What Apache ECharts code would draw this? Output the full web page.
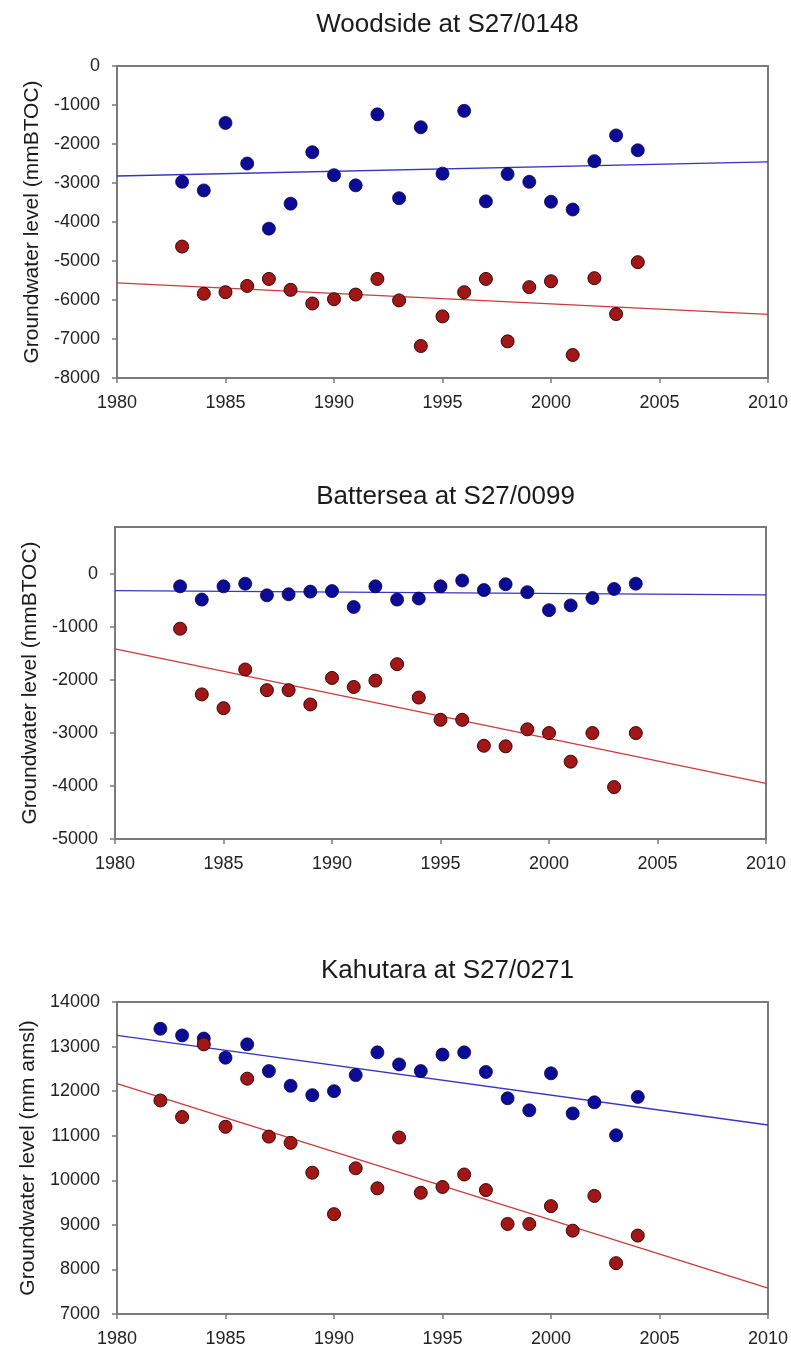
<!DOCTYPE html>
<html>
<head>
<meta charset="utf-8">
<script src="https://cdn.jsdelivr.net/npm/echarts@6/dist/echarts.min.js"></script>
<style>
html,body{margin:0;padding:0;background:#ffffff;}
#chart{width:791px;height:1351px;}
</style>
</head>
<body>
<div id="chart"></div>
<script>
// ---------- data ----------
const titles = ['Woodside at S27/0148', 'Battersea at S27/0099', 'Kahutara at S27/0271'];
const yAxisNames = ['Groundwater level (mmBTOC)', 'Groundwater level (mmBTOC)', 'Groundwater level (mm amsl)'];

const years83 = [1983,1984,1985,1986,1987,1988,1989,1990,1991,1992,1993,1994,1995,1996,1997,1998,1999,2000,2001,2002,2003,2004];
const years82 = [1982,1983,1984,1985,1986,1987,1988,1989,1990,1991,1992,1993,1994,1995,1996,1997,1998,1999,2000,2001,2002,2003,2004];
const xTickLabels = [1980,1985,1990,1995,2000,2005,2010];
const trendYears = [1980, 2010];

// Woodside
const woodsideBlue = [-2970,-3190,-1460,-2500,-4170,-3530,-2210,-2800,-3060,-1240,-3390,-1570,-2760,-1150,-3470,-2770,-2970,-3480,-3680,-2440,-1780,-2160];
const woodsideRed  = [-4630,-5840,-5800,-5640,-5460,-5740,-6090,-5980,-5860,-5460,-6010,-7180,-6420,-5800,-5460,-7060,-5670,-5520,-7410,-5440,-6360,-5030];
const woodsideBlueTrend = [-2820, -2460];
const woodsideRedTrend  = [-5560, -6370];
const woodsideYTicks = [-8000,-7000,-6000,-5000,-4000,-3000,-2000,-1000,0];

// Battersea
const batterseaBlue = [-230,-480,-230,-180,-400,-380,-330,-320,-620,-230,-480,-460,-230,-120,-300,-190,-340,-680,-590,-450,-280,-180];
const batterseaRed  = [-1030,-2270,-2530,-1800,-2190,-2190,-2460,-1960,-2130,-2010,-1700,-2330,-2750,-2750,-3240,-3250,-2930,-3000,-3540,-3000,-4020,-3000];
const batterseaBlueTrend = [-310, -390];
const batterseaRedTrend  = [-1410, -3950];
const batterseaYTicks = [-5000,-4000,-3000,-2000,-1000,0];
const batterseaYMax = 890;

// Kahutara
const kahutaraBlue = [13400,13250,13180,12750,13050,12450,12120,11910,12000,12360,12870,12600,12450,12820,12870,12430,11840,11570,12400,11500,11750,11010,11870];
const kahutaraRed  = [11790,11420,13050,11200,12280,10980,10840,10170,9240,10270,9820,10960,9720,9850,10130,9780,9020,9020,9420,8870,9650,8140,8760];
const kahutaraBlueTrend = [13250, 11240];
const kahutaraRedTrend  = [12170, 7580];
const kahutaraYTicks = [7000,8000,9000,10000,11000,12000,13000,14000];

// ---------- build ----------
const panels = [
  {years: years83, blue: woodsideBlue, red: woodsideRed, bt: woodsideBlueTrend, rt: woodsideRedTrend, ticks: woodsideYTicks, max: 0},
  {years: years83, blue: batterseaBlue, red: batterseaRed, bt: batterseaBlueTrend, rt: batterseaRedTrend, ticks: batterseaYTicks, max: batterseaYMax},
  {years: years82, blue: kahutaraBlue, red: kahutaraRed, bt: kahutaraBlueTrend, rt: kahutaraRedTrend, ticks: kahutaraYTicks, max: 14000}
];
const layout = [
  {left: 117, right: 23, top: 66, height: 312, titleTop: 7},
  {left: 115, right: 25, top: 527, height: 312, titleTop: 479},
  {left: 117, right: 23, top: 1002, height: 312, titleTop: 953}
];

const axisColor = '#7a7a7a';
const labelColor = '#222222';
const font = 'Liberation Sans, Arial, sans-serif';
const BLUE = '#0b0b96', RED = '#a11616';

const option = {
  backgroundColor: '#ffffff',
  animation: false,
  title: [], grid: [], xAxis: [], yAxis: [], series: []
};

panels.forEach((p, i) => {
  const L = layout[i];
  const plotCenter = L.left + (791 - L.left - L.right) / 2;
  option.title.push({
    text: titles[i], left: plotCenter, top: L.titleTop, textAlign: 'center',
    textStyle: {fontFamily: font, fontSize: 26, fontWeight: 'normal', color: '#1a1a1a'}
  });
  option.grid.push({
    left: L.left, right: L.right, top: L.top, height: L.height,
    show: true, borderColor: axisColor, borderWidth: 2, backgroundColor: '#ffffff'
  });
  option.xAxis.push({
    type: 'value', gridIndex: i, min: xTickLabels[0], max: xTickLabels[xTickLabels.length - 1], interval: 5,
    axisLine: {show: true, onZero: false, lineStyle: {color: axisColor, width: 2}},
    axisTick: {show: true, length: 5, lineStyle: {color: axisColor, width: 1.5}},
    axisLabel: {color: labelColor, fontFamily: font, fontSize: 18, margin: 16, formatter: v => String(v)},
    splitLine: {show: false}
  });
  const tmin = p.ticks[0];
  option.yAxis.push({
    type: 'value', gridIndex: i, min: tmin, max: p.max, interval: 1000,
    name: yAxisNames[i], nameLocation: 'middle', nameGap: 74, nameRotate: 90,
    nameTextStyle: {fontFamily: font, fontSize: 21, color: '#1a1a1a'},
    axisLine: {show: true, onZero: false, lineStyle: {color: axisColor, width: 2}},
    axisTick: {show: true, length: 5, lineStyle: {color: axisColor, width: 1.5}, customValues: p.ticks},
    axisLabel: {color: labelColor, fontFamily: font, fontSize: 18, margin: 17, formatter: v => String(v), customValues: p.ticks},
    splitLine: {show: false}
  });
  option.series.push({
    type: 'line', xAxisIndex: i, yAxisIndex: i, symbol: 'none', silent: true,
    lineStyle: {color: '#3535c8', width: 1.3},
    data: trendYears.map((y, k) => [y, p.bt[k]]), z: 2
  });
  option.series.push({
    type: 'line', xAxisIndex: i, yAxisIndex: i, symbol: 'none', silent: true,
    lineStyle: {color: '#cc3a3a', width: 1.3},
    data: trendYears.map((y, k) => [y, p.rt[k]]), z: 2
  });
  option.series.push({
    type: 'scatter', xAxisIndex: i, yAxisIndex: i, symbolSize: 13,
    itemStyle: {color: BLUE, borderColor: '#05054a', borderWidth: 0.8, opacity: 1},
    data: p.years.map((y, k) => [y, p.blue[k]]), z: 3
  });
  option.series.push({
    type: 'scatter', xAxisIndex: i, yAxisIndex: i, symbolSize: 13,
    itemStyle: {color: RED, borderColor: '#3a0505', borderWidth: 1, opacity: 1},
    data: p.years.map((y, k) => [y, p.red[k]]), z: 4
  });
});

const chart = echarts.init(document.getElementById('chart'), null, {renderer: 'canvas'});
chart.setOption(option);
</script>
</body>
</html>
